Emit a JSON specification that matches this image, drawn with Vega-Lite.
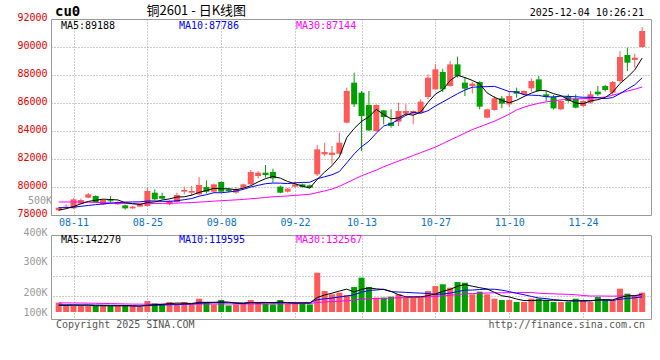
{
 "$schema": "https://vega.github.io/schema/vega-lite/v6.json",
 "padding": {"left": 16, "top": 4, "right": 0, "bottom": 0},
 "background": "#ffffff",
 "bounds": "flush",
 "spacing": 20,
 "config": {
  "view": {"stroke": "#999999", "strokeWidth": 1},
  "axis": {"labelFont": "DejaVu Sans Mono", "labelFontSize": 10, "gridDash": [1, 2], "gridColor": "#999999", "gridOpacity": 1, "ticks": false, "domain": false, "labelOverlap": false},
  "text": {"font": "DejaVu Sans Mono", "fontSize": 10}
 },
 "data": {"values": [
  {"i":-2,"d":"08-07","o":78333,"h":78570,"l":78290,"c":78524,"v":75000,"ma5":78350,"ma10":78520,"ma30":78930,"vma5":52000,"vma10":58000,"vma30":73000},
  {"i":-1,"d":"08-08","o":78620,"h":78760,"l":78550,"c":78660,"v":53000,"ma5":78450,"ma10":78530,"ma30":78930,"vma5":53000,"vma10":58000,"vma30":73000},
  {"i":0,"d":"08-11","o":78476,"h":79190,"l":78440,"c":79119,"v":53000,"ma5":78600,"ma10":78560,"ma30":78930,"vma5":55000,"vma10":57500,"vma30":72500},
  {"i":1,"d":"08-12","o":78809,"h":79170,"l":78760,"c":79071,"v":48000,"ma5":78800,"ma10":78620,"ma30":78920,"vma5":54000,"vma10":57000,"vma30":72000},
  {"i":2,"d":"08-13","o":79238,"h":79571,"l":79200,"c":79476,"v":48000,"ma5":78970,"ma10":78680,"ma30":78910,"vma5":55400,"vma10":56500,"vma30":71000},
  {"i":3,"d":"08-14","o":79357,"h":79400,"l":78880,"c":78928,"v":48000,"ma5":79051,"ma10":78740,"ma30":78900,"vma5":50000,"vma10":56000,"vma30":70000},
  {"i":4,"d":"08-15","o":78762,"h":79120,"l":78720,"c":79071,"v":56000,"ma5":79133,"ma10":78790,"ma30":78880,"vma5":50600,"vma10":55000,"vma30":69000},
  {"i":5,"d":"08-18","o":79050,"h":79357,"l":78881,"c":78980,"v":48000,"ma5":79105,"ma10":78840,"ma30":78860,"vma5":49600,"vma10":54000,"vma30":67500},
  {"i":6,"d":"08-19","o":78762,"h":78980,"l":78720,"c":78928,"v":48000,"ma5":79077,"ma10":78880,"ma30":78840,"vma5":49600,"vma10":53000,"vma30":66000},
  {"i":7,"d":"08-20","o":78690,"h":78740,"l":78380,"c":78476,"v":48000,"ma5":78877,"ma10":78923,"ma30":78820,"vma5":49600,"vma10":52500,"vma30":64500},
  {"i":8,"d":"08-21","o":78476,"h":78640,"l":78440,"c":78595,"v":48000,"ma5":78810,"ma10":78930,"ma30":78800,"vma5":49600,"vma10":49800,"vma30":63500},
  {"i":9,"d":"08-22","o":78595,"h":78810,"l":78560,"c":78762,"v":40000,"ma5":78748,"ma10":78941,"ma30":78800,"vma5":46400,"vma10":48500,"vma30":63000},
  {"i":10,"d":"08-25","o":78643,"h":79952,"l":78600,"c":79714,"v":88000,"ma5":78895,"ma10":79000,"ma30":78810,"vma5":54400,"vma10":52000,"vma30":63000},
  {"i":11,"d":"08-26","o":79595,"h":79833,"l":79080,"c":79119,"v":69000,"ma5":78933,"ma10":79005,"ma30":78820,"vma5":58600,"vma10":54100,"vma30":63000},
  {"i":12,"d":"08-27","o":79357,"h":79595,"l":79120,"c":79166,"v":61000,"ma5":79071,"ma10":78974,"ma30":78830,"vma5":61200,"vma10":55400,"vma30":63000},
  {"i":13,"d":"08-28","o":78762,"h":79050,"l":78700,"c":79000,"v":80000,"ma5":79152,"ma10":78981,"ma30":78840,"vma5":67600,"vma10":58600,"vma30":63200},
  {"i":14,"d":"08-29","o":78928,"h":79595,"l":78880,"c":79428,"v":61000,"ma5":79285,"ma10":79017,"ma30":78850,"vma5":71800,"vma10":59100,"vma30":63400},
  {"i":15,"d":"09-01","o":79666,"h":80024,"l":79476,"c":79785,"v":80000,"ma5":79300,"ma10":79097,"ma30":78870,"vma5":70200,"vma10":62300,"vma30":63600},
  {"i":16,"d":"09-02","o":79595,"h":80071,"l":79357,"c":79714,"v":61000,"ma5":79419,"ma10":79176,"ma30":78890,"vma5":68600,"vma10":63600,"vma30":63800},
  {"i":17,"d":"09-03","o":79476,"h":80714,"l":79430,"c":80143,"v":107000,"ma5":79614,"ma10":79343,"ma30":78920,"vma5":77800,"vma10":69500,"vma30":64000},
  {"i":18,"d":"09-04","o":80000,"h":80476,"l":79523,"c":79666,"v":80000,"ma5":79747,"ma10":79450,"ma30":78950,"vma5":77800,"vma10":72700,"vma30":64200},
  {"i":19,"d":"09-05","o":79666,"h":80250,"l":79620,"c":80190,"v":61000,"ma5":79900,"ma10":79593,"ma30":78990,"vma5":77800,"vma10":74800,"vma30":64300},
  {"i":20,"d":"09-08","o":80357,"h":80400,"l":79620,"c":79666,"v":96000,"ma5":79876,"ma10":79588,"ma30":79020,"vma5":81000,"vma10":75600,"vma30":64400},
  {"i":21,"d":"09-09","o":79833,"h":79900,"l":79620,"c":79700,"v":53000,"ma5":79873,"ma10":79646,"ma30":79050,"vma5":79400,"vma10":74000,"vma30":64500},
  {"i":22,"d":"09-10","o":79600,"h":80000,"l":79523,"c":79833,"v":61000,"ma5":79811,"ma10":79713,"ma30":79080,"vma5":70200,"vma10":74000,"vma30":64500},
  {"i":23,"d":"09-11","o":79952,"h":80240,"l":79900,"c":80190,"v":69000,"ma5":79916,"ma10":79832,"ma30":79110,"vma5":68000,"vma10":72900,"vma30":64600},
  {"i":24,"d":"09-12","o":80190,"h":81214,"l":80150,"c":81071,"v":96000,"ma5":80092,"ma10":79996,"ma30":79160,"vma5":75000,"vma10":76400,"vma30":64700},
  {"i":25,"d":"09-15","o":80785,"h":81143,"l":80619,"c":81024,"v":80000,"ma5":80364,"ma10":80120,"ma30":79200,"vma5":71800,"vma10":76400,"vma30":64800},
  {"i":26,"d":"09-16","o":81024,"h":81571,"l":80666,"c":80857,"v":69000,"ma5":80595,"ma10":80234,"ma30":79250,"vma5":75000,"vma10":77200,"vma30":64800},
  {"i":27,"d":"09-17","o":81071,"h":81309,"l":80309,"c":80619,"v":61000,"ma5":80752,"ma10":80282,"ma30":79300,"vma5":75000,"vma10":72600,"vma30":64900},
  {"i":28,"d":"09-18","o":80024,"h":80100,"l":79550,"c":79595,"v":96000,"ma5":80633,"ma10":80275,"ma30":79330,"vma5":80400,"vma10":74200,"vma30":65600},
  {"i":29,"d":"09-19","o":79666,"h":79930,"l":79620,"c":79881,"v":69000,"ma5":80395,"ma10":80244,"ma30":79360,"vma5":75000,"vma10":75000,"vma30":66100},
  {"i":30,"d":"09-22","o":80024,"h":80381,"l":79980,"c":80190,"v":69000,"ma5":80228,"ma10":80296,"ma30":79400,"vma5":72800,"vma10":72300,"vma30":66600},
  {"i":31,"d":"09-23","o":80190,"h":80250,"l":79950,"c":80000,"v":69000,"ma5":80057,"ma10":80326,"ma30":79440,"vma5":72800,"vma10":73900,"vma30":67300},
  {"i":32,"d":"09-24","o":80119,"h":80180,"l":79900,"c":79952,"v":61000,"ma5":79924,"ma10":80338,"ma30":79480,"vma5":72800,"vma10":73900,"vma30":67800},
  {"i":33,"d":"09-25","o":80904,"h":83000,"l":80785,"c":82690,"v":315000,"ma5":80543,"ma10":80588,"ma30":79600,"vma5":116600,"vma10":98500,"vma30":76700},
  {"i":34,"d":"09-26","o":82333,"h":83166,"l":82214,"c":82500,"v":168000,"ma5":81066,"ma10":80731,"ma30":79720,"vma5":136400,"vma10":105700,"vma30":80400},
  {"i":35,"d":"09-29","o":82285,"h":82928,"l":81619,"c":82452,"v":142000,"ma5":81519,"ma10":80874,"ma30":79850,"vma5":151000,"vma10":111900,"vma30":83500},
  {"i":36,"d":"09-30","o":82381,"h":83881,"l":82330,"c":83166,"v":155000,"ma5":82152,"ma10":81105,"ma30":80050,"vma5":168200,"vma10":120500,"vma30":87100},
  {"i":37,"d":"10-09","o":84595,"h":87095,"l":84550,"c":86857,"v":136000,"ma5":83533,"ma10":81728,"ma30":80300,"vma5":183200,"vma10":128000,"vma30":90000},
  {"i":38,"d":"10-10","o":87452,"h":88167,"l":85714,"c":85905,"v":200000,"ma5":84176,"ma10":82359,"ma30":80550,"vma5":160200,"vma10":138400,"vma30":95100},
  {"i":39,"d":"10-13","o":86738,"h":86857,"l":82571,"c":85071,"v":275000,"ma5":84690,"ma10":82878,"ma30":80800,"vma5":181600,"vma10":159000,"vma30":102900},
  {"i":40,"d":"10-14","o":85857,"h":86857,"l":84000,"c":84047,"v":200000,"ma5":85009,"ma10":83264,"ma30":81000,"vma5":193200,"vma10":172100,"vma30":106700},
  {"i":41,"d":"10-15","o":84000,"h":85900,"l":83950,"c":85857,"v":115000,"ma5":85547,"ma10":83850,"ma30":81200,"vma5":185200,"vma10":176700,"vma30":108200},
  {"i":42,"d":"10-16","o":85476,"h":85500,"l":84476,"c":85000,"v":115000,"ma5":85176,"ma10":84355,"ma30":81450,"vma5":181000,"vma10":182100,"vma30":110000},
  {"i":43,"d":"10-17","o":84595,"h":85548,"l":84238,"c":84357,"v":123000,"ma5":84866,"ma10":84521,"ma30":81650,"vma5":165600,"vma10":162900,"vma30":111400},
  {"i":44,"d":"10-20","o":84666,"h":86024,"l":84357,"c":85428,"v":142000,"ma5":84938,"ma10":84814,"ma30":81850,"vma5":139000,"vma10":160300,"vma30":114100},
  {"i":45,"d":"10-21","o":85238,"h":85905,"l":85071,"c":85428,"v":115000,"ma5":85214,"ma10":85112,"ma30":82050,"vma5":122000,"vma10":157600,"vma30":115300},
  {"i":46,"d":"10-22","o":85238,"h":85470,"l":84476,"c":85428,"v":115000,"ma5":85128,"ma10":85338,"ma30":82250,"vma5":122000,"vma10":153600,"vma30":117100},
  {"i":47,"d":"10-23","o":85309,"h":86262,"l":85260,"c":86095,"v":115000,"ma5":85347,"ma10":85262,"ma30":82450,"vma5":122000,"vma10":151500,"vma30":117400},
  {"i":48,"d":"10-24","o":86428,"h":88048,"l":86262,"c":87809,"v":168000,"ma5":86038,"ma10":85452,"ma30":82650,"vma5":131000,"vma10":148300,"vma30":120300},
  {"i":49,"d":"10-27","o":86976,"h":88762,"l":86930,"c":88405,"v":208000,"ma5":86633,"ma10":85785,"ma30":82850,"vma5":144200,"vma10":141600,"vma30":125200},
  {"i":50,"d":"10-28","o":88214,"h":88452,"l":86785,"c":86976,"v":222000,"ma5":86943,"ma10":86078,"ma30":83100,"vma5":165600,"vma10":143800,"vma30":129400},
  {"i":51,"d":"10-29","o":87214,"h":89000,"l":87170,"c":88762,"v":195000,"ma5":87609,"ma10":86369,"ma30":83350,"vma5":181600,"vma10":151800,"vma30":134100},
  {"i":52,"d":"10-30","o":88762,"h":89309,"l":87809,"c":87928,"v":240000,"ma5":87976,"ma10":86662,"ma30":83600,"vma5":206600,"vma10":164300,"vma30":140100},
  {"i":53,"d":"10-31","o":87452,"h":87857,"l":86500,"c":87024,"v":235000,"ma5":87819,"ma10":86928,"ma30":83850,"vma5":220000,"vma10":175500,"vma30":145600},
  {"i":54,"d":"11-03","o":87214,"h":87524,"l":86667,"c":87381,"v":142000,"ma5":87614,"ma10":87124,"ma30":84100,"vma5":206800,"vma10":175500,"vma30":147200},
  {"i":55,"d":"11-04","o":87500,"h":87550,"l":85548,"c":85738,"v":163000,"ma5":87367,"ma10":87155,"ma30":84300,"vma5":195000,"vma10":180300,"vma30":149900},
  {"i":56,"d":"11-05","o":84952,"h":85600,"l":84904,"c":85548,"v":142000,"ma5":86724,"ma10":87167,"ma30":84500,"vma5":184400,"vma10":183000,"vma30":152400},
  {"i":57,"d":"11-06","o":85500,"h":86500,"l":85450,"c":86333,"v":107000,"ma5":86405,"ma10":87190,"ma30":84700,"vma5":157800,"vma10":182200,"vma30":153900},
  {"i":58,"d":"11-07","o":86333,"h":86500,"l":85619,"c":85952,"v":96000,"ma5":86190,"ma10":87005,"ma30":84950,"vma5":130000,"vma10":175000,"vma30":153900},
  {"i":59,"d":"11-10","o":85905,"h":86809,"l":85738,"c":86500,"v":96000,"ma5":86014,"ma10":86814,"ma30":85200,"vma5":120800,"vma10":163800,"vma30":154800},
  {"i":60,"d":"11-11","o":86857,"h":87095,"l":86380,"c":86667,"v":80000,"ma5":86200,"ma10":86783,"ma30":85500,"vma5":104200,"vma10":149600,"vma30":155200},
  {"i":61,"d":"11-12","o":86619,"h":86900,"l":86570,"c":86857,"v":80000,"ma5":86462,"ma10":86593,"ma30":85700,"vma5":91800,"vma10":138100,"vma30":155500},
  {"i":62,"d":"11-13","o":87048,"h":87762,"l":86809,"c":87571,"v":107000,"ma5":86709,"ma10":86557,"ma30":85850,"vma5":91800,"vma10":124800,"vma30":157100},
  {"i":63,"d":"11-14","o":87690,"h":87928,"l":86800,"c":86857,"v":107000,"ma5":86890,"ma10":86540,"ma30":85980,"vma5":94000,"vma10":112000,"vma30":150100},
  {"i":64,"d":"11-17","o":86619,"h":86857,"l":86143,"c":86428,"v":96000,"ma5":86876,"ma10":86445,"ma30":86080,"vma5":94000,"vma10":107400,"vma30":147700},
  {"i":65,"d":"11-18","o":86428,"h":86571,"l":85524,"c":85619,"v":80000,"ma5":86666,"ma10":86433,"ma30":86150,"vma5":94000,"vma10":99100,"vma30":145700},
  {"i":66,"d":"11-19","o":85548,"h":86190,"l":85500,"c":86143,"v":80000,"ma5":86524,"ma10":86493,"ma30":86220,"vma5":94000,"vma10":92900,"vma30":143200},
  {"i":67,"d":"11-20","o":86500,"h":86619,"l":86024,"c":86143,"v":80000,"ma5":86238,"ma10":86474,"ma30":86280,"vma5":88600,"vma10":90200,"vma30":141300},
  {"i":68,"d":"11-21","o":86310,"h":86619,"l":85620,"c":85667,"v":107000,"ma5":86000,"ma10":86445,"ma30":86300,"vma5":88600,"vma10":91300,"vma30":138200},
  {"i":69,"d":"11-24","o":85786,"h":86190,"l":85714,"c":86143,"v":96000,"ma5":85943,"ma10":86410,"ma30":86310,"vma5":88600,"vma10":91300,"vma30":132200},
  {"i":70,"d":"11-25","o":86024,"h":86857,"l":85952,"c":86619,"v":80000,"ma5":86143,"ma10":86405,"ma30":86330,"vma5":88600,"vma10":91300,"vma30":128200},
  {"i":71,"d":"11-26","o":86809,"h":87214,"l":86500,"c":86619,"v":120000,"ma5":86238,"ma10":86381,"ma30":86370,"vma5":96600,"vma10":95300,"vma30":128400},
  {"i":72,"d":"11-27","o":87214,"h":87285,"l":86809,"c":86928,"v":96000,"ma5":86395,"ma10":86317,"ma30":86430,"vma5":99800,"vma10":94200,"vma30":127800},
  {"i":73,"d":"11-28","o":86738,"h":87571,"l":86571,"c":87500,"v":96000,"ma5":86762,"ma10":86381,"ma30":86550,"vma5":97600,"vma10":93100,"vma30":126900},
  {"i":74,"d":"12-01","o":87571,"h":89714,"l":87452,"c":89285,"v":187000,"ma5":87390,"ma10":86667,"ma30":86700,"vma5":115800,"vma10":102200,"vma30":128400},
  {"i":75,"d":"12-02","o":89429,"h":89952,"l":88286,"c":88881,"v":147000,"ma5":87843,"ma10":86993,"ma30":86850,"vma5":129200,"vma10":108900,"vma30":129400},
  {"i":76,"d":"12-03","o":89071,"h":89524,"l":88524,"c":89238,"v":128000,"ma5":88366,"ma10":87302,"ma30":86980,"vma5":130800,"vma10":113700,"vma30":129900},
  {"i":77,"d":"12-04","o":90000,"h":91428,"l":89950,"c":91143,"v":155000,"ma5":89209,"ma10":87802,"ma30":87144,"vma5":142600,"vma10":121200,"vma30":131200}
 ]},
 "vconcat": [
  {
   "width": 600,
   "height": 196,
   "layer": [
    {
     "mark": {"type": "rule", "strokeWidth": 1},
     "encoding": {
      "x": {"field": "i", "type": "quantitative", "scale": {"domain": [-2.373, 77.52], "nice": false, "zero": false},
            "axis": {"values": [0, 10, 20, 30, 39, 49, 59, 69], "tickCount": 30, "labelExpr": "datum.value==0?'08-11':datum.value==10?'08-25':datum.value==20?'09-08':datum.value==30?'09-22':datum.value==39?'10-13':datum.value==49?'10-27':datum.value==59?'11-10':'11-24'", "title": null, "grid": true, "labelColor": "#0a72c8", "labelPadding": 2, "labelFlush": false, "labelOverlap": false}},
      "y": {"field": "l", "type": "quantitative", "scale": {"domain": [78000, 92000], "nice": false, "zero": false},
            "axis": {"values": [78000, 80000, 82000, 84000, 86000, 88000, 90000, 92000], "tickCount": 30, "format": "d", "title": null, "grid": true, "labelColor": "#e00000", "labelPadding": 4, "labelOffset": -2, "labelFlush": false, "labelOverlap": false}},
      "y2": {"field": "h"},
      "color": {"condition": {"test": "datum.c >= datum.o", "value": "#ff5a5a"}, "value": "#00a000"}
     }
    },
    {
     "mark": {"type": "bar", "width": 6},
     "encoding": {
      "x": {"field": "i", "type": "quantitative"},
      "y": {"field": "o", "type": "quantitative"},
      "y2": {"field": "c"},
      "color": {"condition": {"test": "datum.c >= datum.o", "value": "#ff5a5a"}, "value": "#00a000"}
     }
    },
    {"mark": {"type": "line", "color": "#ff00ff", "strokeWidth": 1}, "encoding": {"x": {"field": "i", "type": "quantitative"}, "y": {"field": "ma30", "type": "quantitative"}}},
    {"mark": {"type": "line", "color": "#0000ff", "strokeWidth": 1}, "encoding": {"x": {"field": "i", "type": "quantitative"}, "y": {"field": "ma10", "type": "quantitative"}}},
    {"mark": {"type": "line", "color": "#000000", "strokeWidth": 1}, "encoding": {"x": {"field": "i", "type": "quantitative"}, "y": {"field": "ma5", "type": "quantitative"}}},
    {"data": {"values": [{}]}, "mark": {"type": "text", "align": "left", "baseline": "middle", "color": "#000000", "text": "MA5:89188"}, "encoding": {"x": {"datum": -1.707}, "y": {"datum": 91500}}},
    {"data": {"values": [{}]}, "mark": {"type": "text", "align": "left", "baseline": "middle", "color": "#0000ff", "text": "MA10:87786"}, "encoding": {"x": {"datum": 14.27}, "y": {"datum": 91500}}},
    {"data": {"values": [{}]}, "mark": {"type": "text", "align": "left", "baseline": "middle", "color": "#ff00ff", "text": "MA30:87144"}, "encoding": {"x": {"datum": 30.12}, "y": {"datum": 91500}}},
    {"data": {"values": [{}]}, "mark": {"type": "text", "align": "left", "baseline": "middle", "color": "#000000", "fontSize": 14, "fontWeight": "bold", "text": "cu0"}, "encoding": {"x": {"datum": -2.51}, "y": {"datum": 92500}}},
    {"data": {"values": [{}]}, "mark": {"type": "text", "align": "left", "baseline": "middle", "color": "#000000", "font": "Noto Sans CJK SC", "fontSize": 13, "text": "铜2601 - 日K线图"}, "encoding": {"x": {"datum": 9.877}, "y": {"datum": 92550}}},
    {"data": {"values": [{}]}, "mark": {"type": "text", "align": "right", "baseline": "middle", "color": "#000000", "text": "2025-12-04 10:26:21"}, "encoding": {"x": {"datum": 77.254}, "y": {"datum": 92450}}}
   ]
  },
  {
   "width": 600,
   "height": 84,
   "resolve": {"axis": {"y": "independent"}},
   "layer": [
    {
     "mark": {"type": "bar", "width": 6},
     "encoding": {
      "x": {"field": "i", "type": "quantitative", "scale": {"domain": [-2.373, 77.52], "nice": false, "zero": false},
            "axis": {"values": [0, 10, 20, 30, 39, 49, 59, 69], "tickCount": 30, "labels": false, "title": null, "grid": true}},
      "y": {"field": "v", "type": "quantitative", "scale": {"domain": [-56000, 617000], "nice": false, "zero": false},
            "axis": {"orient": "left", "values": [616000, 400679, 160321, 0], "tickCount": 30, "labelExpr": "datum.value > 600000 ? '400K' : datum.value > 300000 ? '300K' : datum.value > 100000 ? '200K' : '100K'", "labelOffset": {"condition": {"test": "datum.value > 600000", "value": -3}, "value": 0}, "title": null, "grid": false, "labelColor": "#999999", "labelPadding": 4, "labelFlush": false, "labelOverlap": false}},
      "y2": {"datum": 0},
      "color": {"condition": {"test": "datum.c >= datum.o", "value": "#ff5a5a"}, "value": "#00a000"}
     }
    },
    {"mark": {"type": "line", "color": "#ff00ff", "strokeWidth": 1}, "encoding": {"x": {"field": "i", "type": "quantitative"}, "y": {"field": "vma30", "type": "quantitative", "axis": {"orient": "right", "values": [448750, 288512, 128274], "tickCount": 30, "labels": false, "title": null, "grid": true}}}},
    {"mark": {"type": "line", "color": "#0000ff", "strokeWidth": 1}, "encoding": {"x": {"field": "i", "type": "quantitative"}, "y": {"field": "vma10", "type": "quantitative", "axis": null}}},
    {"mark": {"type": "line", "color": "#000000", "strokeWidth": 1}, "encoding": {"x": {"field": "i", "type": "quantitative"}, "y": {"field": "vma5", "type": "quantitative", "axis": null}}},
    {"data": {"values": [{}]}, "mark": {"type": "text", "align": "left", "baseline": "middle", "color": "#000000", "text": "MA5:142270"}, "encoding": {"x": {"datum": -1.707}, "y": {"datum": 576940, "axis": null}}},
    {"data": {"values": [{}]}, "mark": {"type": "text", "align": "left", "baseline": "middle", "color": "#0000ff", "text": "MA10:119595"}, "encoding": {"x": {"datum": 14.27}, "y": {"datum": 576940, "axis": null}}},
    {"data": {"values": [{}]}, "mark": {"type": "text", "align": "left", "baseline": "middle", "color": "#ff00ff", "text": "MA30:132567"}, "encoding": {"x": {"datum": 30.12}, "y": {"datum": 576940, "axis": null}}},
    {"data": {"values": [{}]}, "mark": {"type": "text", "align": "right", "baseline": "middle", "color": "#999999", "text": "500K"}, "encoding": {"x": {"datum": -2.906}, "y": {"datum": 889405, "axis": null}}},
    {"data": {"values": [{}]}, "mark": {"type": "text", "align": "left", "baseline": "middle", "color": "#555555", "text": "Copyright 2025 SINA.COM"}, "encoding": {"x": {"datum": -2.373}, "y": {"datum": -104071, "axis": null}}},
    {"data": {"values": [{}]}, "mark": {"type": "text", "align": "right", "baseline": "middle", "color": "#555555", "text": "http://finance.sina.com.cn"}, "encoding": {"x": {"datum": 77.39}, "y": {"datum": -104071, "axis": null}}}
   ]
  }
 ]
}
